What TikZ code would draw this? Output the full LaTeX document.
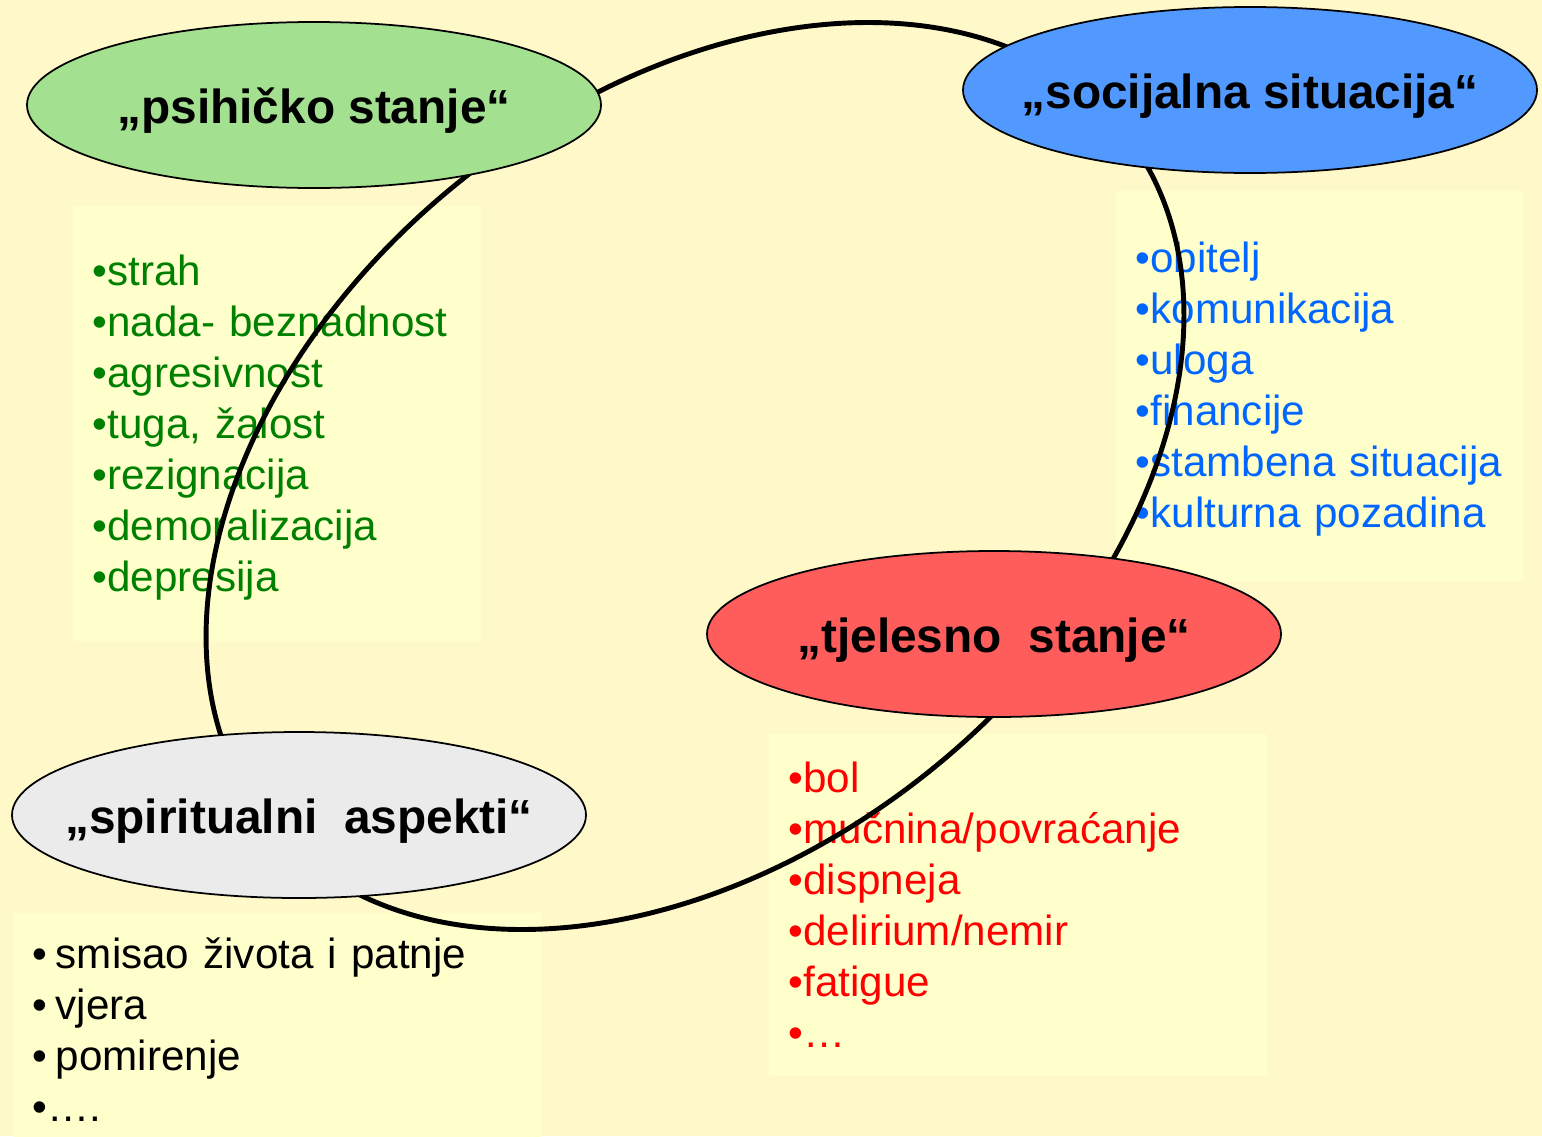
\documentclass[tikz,border=0pt]{standalone}
\usepackage[usenames,dvipsnames]{xcolor}
\usepackage{fontspec}
\setmainfont{Liberation Sans}
\usetikzlibrary{shapes.geometric}

\definecolor{pagebg}{HTML}{FFF9C9}
\definecolor{boxbg}{HTML}{FFFFCC}
\definecolor{psigreen}{HTML}{A3E08F}
\definecolor{socblue}{HTML}{5299FF}
\definecolor{tjered}{HTML}{FF5C5C}
\definecolor{spigray}{HTML}{EBEBEB}
\definecolor{txtgreen}{HTML}{008000}
\definecolor{txtblue}{HTML}{0066FF}

\tikzset{
  bubble/.style={ellipse, draw=black, line width=0.5pt, minimum width=5.74cm, minimum height=1.66cm, inner sep=0pt, text height=0.46cm, text depth=0.1cm, font=\fontsize{13.6}{16}\selectfont\bfseries},
  listbox/.style={rectangle, fill=boxbg, anchor=north west, inner xsep=0.2cm, inner ysep=0pt, align=left, font=\fontsize{12}{14.5}\selectfont}
}

\begin{document}
\begin{tikzpicture}
  \fill[pagebg] (0,0) rectangle (15.42,11.36);
  \useasboundingbox (0,0) rectangle (15.42,11.36);
  \node[listbox, text=txtgreen, text width=3.68cm, minimum height=4.35cm] (psilist) at (0.72,9.31)
    {\rule{0pt}{0.40cm}•strah\\•nada-~beznadnost\\•agresivnost\\•tuga,~žalost\\•rezignacija\\•demoralizacija\\•depresija};
  \node[listbox, text=txtblue, text width=3.67cm, minimum height=3.90cm] (soclist) at (11.15,9.46)
    {\rule{0pt}{0.38cm}•obitelj\\•komunikacija\\•uloga\\•financije\\•stambena~situacija\\•kulturna~pozadina};
  \node[listbox, text=red, text width=4.58cm, minimum height=3.42cm] (tjelist) at (7.68,4.03)
    {•bol\\•mučnina/povraćanje\\•dispneja\\•delirium/nemir\\•fatigue\\•…};
  \node[listbox, text=black, text width=4.88cm, minimum height=2.34cm] (spilist) at (0.12,2.24)
    {•\hspace{0.2em}smisao~života~i~patnje\\•\hspace{0.2em}vjera\\•\hspace{0.2em}pomirenje\\•….};
  \draw[line width=1.4pt, rotate around={39:(6.95,6.60)}] (6.95,6.60) ellipse (5.5 and 3.77);
  \foreach \name/\pos/\col/\txt in {psi/{3.14,10.31}/psigreen/{„psihičko stanje“},
    soc/{12.50,10.46}/socblue/{„socijalna situacija“},
    tje/{9.94,5.02}/tjered/{„tjelesno\ \ stanje“},
    spi/{2.99,3.21}/spigray/{„spiritualni\ \ aspekti“}} {
    \node[bubble, fill=\col] (\name) at (\pos) {\makebox[0pt]{\txt}};
  }
\end{tikzpicture}
\end{document}
